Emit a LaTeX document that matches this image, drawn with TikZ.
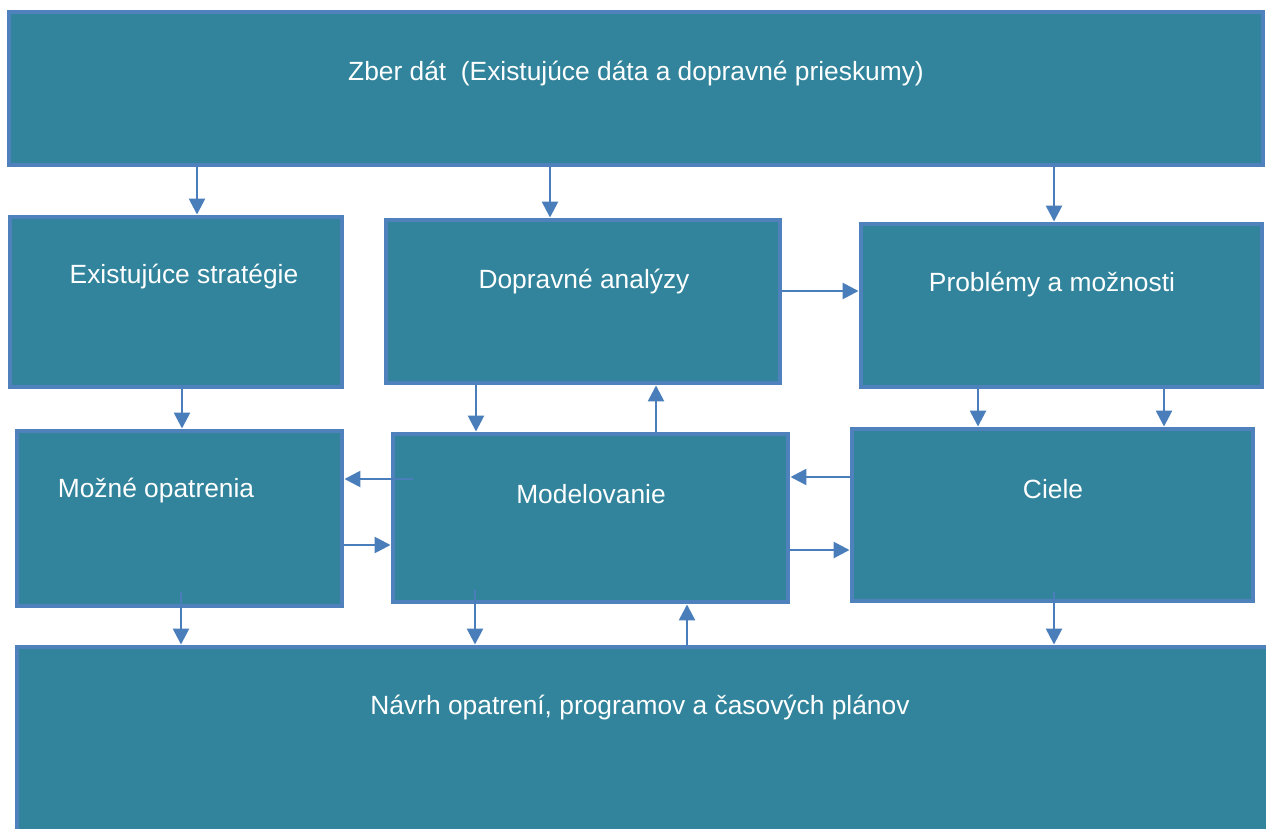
\documentclass[tikz,border=0pt]{standalone}
\usepackage{fontspec}
\setmainfont{Liberation Sans}
\usetikzlibrary{fit,arrows.meta}
\definecolor{boxfill}{RGB}{49,132,155}
\definecolor{boxline}{RGB}{79,129,189}
\definecolor{arrline}{RGB}{74,126,187}

\begin{document}
\begin{tikzpicture}[x=0.02cm, y=-0.02cm,
    box/.style={draw=boxline, fill=boxfill, line width=2.8pt, inner sep=0pt},
    lbl/.style={text=white, font=\fontsize{15}{18}\selectfont, inner sep=0pt},
    arr/.style={draw=arrline, line width=1.5pt, -{Triangle[length=0.32cm, width=0.32cm]}}]

    \clip (0,0) rectangle (1266,828);

    % Boxes
    \node[box, fit={(9,12) (1263,165)}] (zber) {};
    \node[box, fit={(10,217) (342,387)}] (strat) {};
    \node[box, fit={(386,220) (780,383)}] (anal) {};
    \node[box, fit={(861,224) (1262,387)}] (prob) {};
    \node[box, fit={(17,431) (342,606)}] (moz) {};
    \node[box, fit={(393,434) (788,602)}] (model) {};
    \node[box, fit={(852,429) (1253,601)}] (ciele) {};
    \node[box, fit={(17,647) (1270,840)}] (navrh) {};

    % Texts
    \node[lbl] (zbertxt) at (636,74) {Zber dát~ (Existujúce dáta a dopravné prieskumy)};
    \node[lbl] (strattxt) at (184,277) {Existujúce stratégie};
    \node[lbl] (analtxt) at (584,282) {Dopravné analýzy};
    \node[lbl] (probtxt) at (1052,285) {Problémy a možnosti};
    \node[lbl] (moztxt) at (156,491) {Možné opatrenia};
    \node[lbl] (modeltxt) at (591,494) {Modelovanie};
    \node[lbl] (cieletxt) at (1053,489) {Ciele};
    \node[lbl] (navrhtxt) at (640,708) {Návrh opatrení, programov a časových plánov};

    % Free ends inside boxes
    \coordinate (modelin) at (413,479);
    \coordinate (mozout) at (181,592);
    \coordinate (modelout) at (475,590);
    \coordinate (cieleout) at (1054,592);

    % From data collection
    \draw[arr] (197,0 |- zber.south) -- (197,0 |- strat.north);
    \draw[arr] (550,0 |- zber.south) -- (550,0 |- anal.north);
    \draw[arr] (1054,0 |- zber.south) -- (1054,0 |- prob.north);
    \draw[arr] (anal.east |- 0,291) -- (prob.west |- 0,291);

    % Middle row
    \draw[arr] (182,0 |- strat.south) -- (182,0 |- moz.north);
    \draw[arr] (476,0 |- anal.south) -- (476,0 |- model.north);
    \draw[arr] (656,0 |- model.north) -- (656,0 |- anal.south);
    \draw[arr] (978,0 |- prob.south) -- (978,0 |- ciele.north);
    \draw[arr] (1164,0 |- prob.south) -- (1164,0 |- ciele.north);
    \draw[arr] (modelin) -- (moz.east |- modelin);
    \draw[arr] (moz.east |- 0,545) -- (model.west |- 0,545);
    \draw[arr] (ciele.west |- 0,477) -- (model.east |- 0,477);
    \draw[arr] (model.east |- 0,550) -- (ciele.west |- 0,550);

    % To the proposal
    \draw[arr] (mozout) -- (mozout |- navrh.north);
    \draw[arr] (modelout) -- (modelout |- navrh.north);
    \draw[arr] (687,0 |- navrh.north) -- (687,0 |- model.south);
    \draw[arr] (cieleout) -- (cieleout |- navrh.north);
\end{tikzpicture}
\end{document}
